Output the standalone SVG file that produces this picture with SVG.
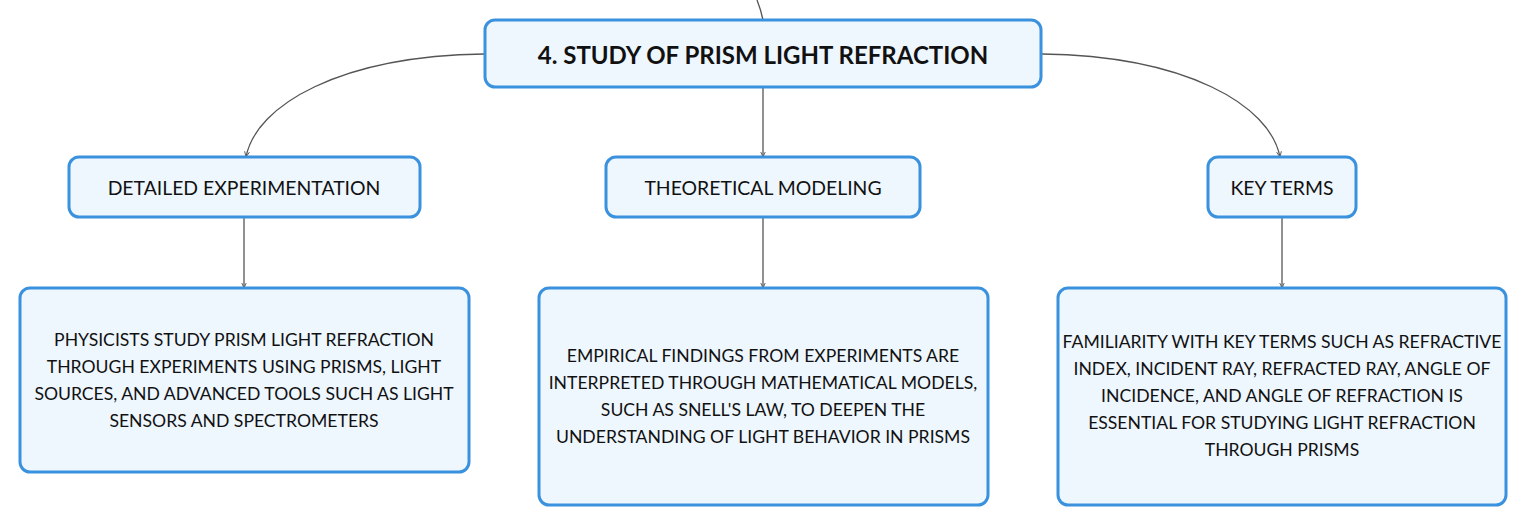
<svg xmlns="http://www.w3.org/2000/svg" width="1527" height="526" viewBox="0 0 1527 526">
<defs>
<marker id="arr" viewBox="0 0 10 10" refX="9" refY="5" markerWidth="6" markerHeight="6" orient="auto" markerUnits="userSpaceOnUse">
<path d="M0,1 L9,5 L0,9" fill="none" stroke="#555" stroke-width="1.5"/>
</marker>
<style>
.box{fill:#eef6fe;stroke:#3a92de;stroke-width:3}
.con{fill:none;stroke:#555;stroke-width:1.3}
text{font-family:Lato,"Noto Sans",sans-serif;fill:#111;text-anchor:middle;dominant-baseline:central}
.title{font-weight:bold;font-size:24px}
.mid{font-size:19.4px}
.body{font-size:17.6px}
</style>
</defs>
<rect width="1527" height="526" fill="#fff"/>
<g id="connectors">
<path class="con" d="M757,0 Q761,10 763,20"/>
<path class="con" d="M484,54 C340,56 256,105 246,157" marker-end="url(#arr)"/>
<path class="con" d="M763,87 L763,157" marker-end="url(#arr)"/>
<path class="con" d="M1042,54 C1186,56 1270,105 1280,157" marker-end="url(#arr)"/>
<path class="con" d="M244,217 L244,288" marker-end="url(#arr)"/>
<path class="con" d="M763,217 L763,288" marker-end="url(#arr)"/>
<path class="con" d="M1282,217 L1282,288" marker-end="url(#arr)"/>
</g>
<g id="main">
<rect class="box" x="485" y="20" width="556" height="67" rx="10"/>
<text class="title" x="763" y="54">4. STUDY OF PRISM LIGHT REFRACTION</text>
</g>
<g id="detailed">
<rect class="box" x="69" y="157" width="351" height="60" rx="10"/>
<text class="mid" x="244" y="187">DETAILED EXPERIMENTATION</text>
</g>
<g id="theoretical">
<rect class="box" x="606" y="157" width="314" height="60" rx="10"/>
<text class="mid" x="763" y="187">THEORETICAL MODELING</text>
</g>
<g id="keyterms">
<rect class="box" x="1208" y="157" width="148" height="60" rx="10"/>
<text class="mid" x="1282" y="187">KEY TERMS</text>
</g>
<g id="detail-text">
<rect class="box" x="20" y="288" width="449" height="184" rx="10"/>
<text class="body" x="244" y="339">PHYSICISTS STUDY PRISM LIGHT REFRACTION</text>
<text class="body" x="244" y="366">THROUGH EXPERIMENTS USING PRISMS, LIGHT</text>
<text class="body" x="244" y="393">SOURCES, AND ADVANCED TOOLS SUCH AS LIGHT</text>
<text class="body" x="244" y="420">SENSORS AND SPECTROMETERS</text>
</g>
<g id="theory-text">
<rect class="box" x="539" y="288" width="449" height="217" rx="10"/>
<text class="body" x="763" y="355">EMPIRICAL FINDINGS FROM EXPERIMENTS ARE</text>
<text class="body" x="763" y="382">INTERPRETED THROUGH MATHEMATICAL MODELS,</text>
<text class="body" x="763" y="409">SUCH AS SNELL'S LAW, TO DEEPEN THE</text>
<text class="body" x="763" y="436">UNDERSTANDING OF LIGHT BEHAVIOR IN PRISMS</text>
</g>
<g id="keyterms-text">
<rect class="box" x="1058" y="288" width="448" height="217" rx="10"/>
<text class="body" x="1282" y="341">FAMILIARITY WITH KEY TERMS SUCH AS REFRACTIVE</text>
<text class="body" x="1282" y="368">INDEX, INCIDENT RAY, REFRACTED RAY, ANGLE OF</text>
<text class="body" x="1282" y="395">INCIDENCE, AND ANGLE OF REFRACTION IS</text>
<text class="body" x="1282" y="422">ESSENTIAL FOR STUDYING LIGHT REFRACTION</text>
<text class="body" x="1282" y="449">THROUGH PRISMS</text>
</g>
</svg>
